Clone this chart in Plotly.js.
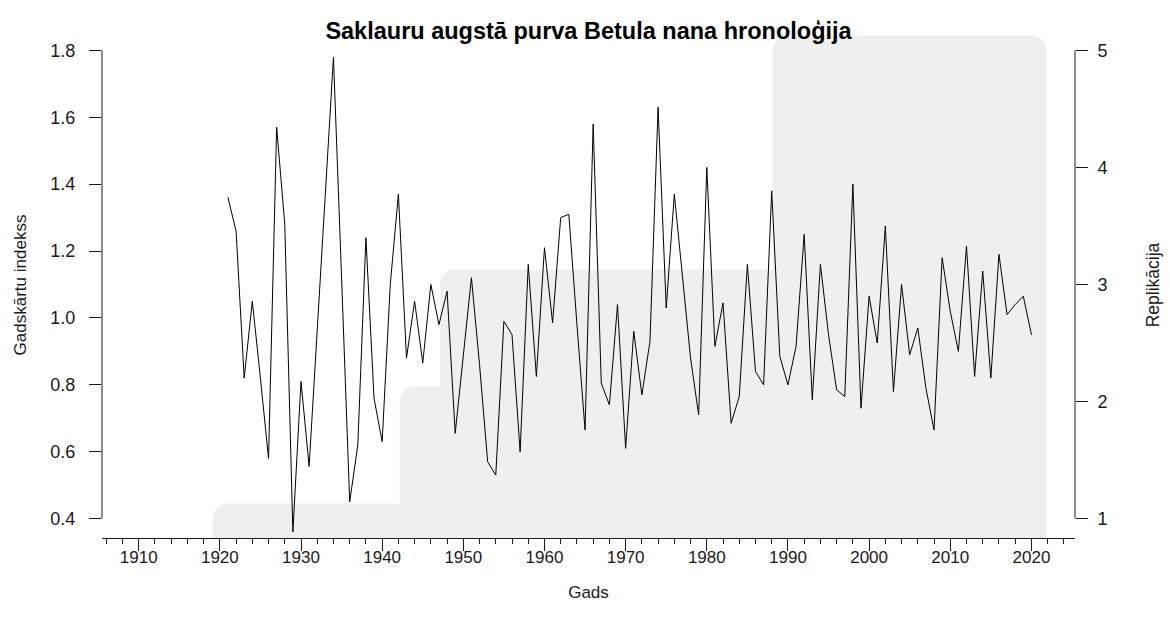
<!DOCTYPE html>
<html>
<head>
<meta charset="utf-8">
<script src="https://cdn.plot.ly/plotly-3.0.1.min.js"></script>
<style>
  body { margin: 0; background: #fff; }
  #chart { width: 1170px; height: 630px; }
</style>
</head>
<body>
<div id="chart"></div>
<script>
// gadskārtu indekss pa gadiem
var years = [1921,1922,1923,1924,1925,1926,1927,1928,1929,1930,
             1931,1932,1933,1934,1935,1936,1937,1938,1939,1940,
             1941,1942,1943,1944,1945,1946,1947,1948,1949,1950,
             1951,1952,1953,1954,1955,1956,1957,1958,1959,1960,
             1961,1962,1963,1964,1965,1966,1967,1968,1969,1970,
             1971,1972,1973,1974,1975,1976,1977,1978,1979,1980,
             1981,1982,1983,1984,1985,1986,1987,1988,1989,1990,
             1991,1992,1993,1994,1995,1996,1997,1998,1999,2000,
             2001,2002,2003,2004,2005,2006,2007,2008,2009,2010,
             2011,2012,2013,2014,2015,2016,2017,2018,2019,2020];
var indekss = [1.36,1.26,0.82,1.05,0.82,0.58,1.57,1.28,0.36,0.81,
               0.556,0.97,1.38,1.78,1.12,0.45,0.62,1.24,0.76,0.63,
               1.10,1.37,0.88,1.05,0.865,1.10,0.98,1.08,0.655,0.89,
               1.12,0.86,0.57,0.53,0.99,0.95,0.60,1.16,0.825,1.21,
               0.985,1.30,1.31,0.98,0.665,1.58,0.805,0.74,1.04,0.61,
               0.96,0.77,0.93,1.63,1.03,1.37,1.13,0.88,0.71,1.45,
               0.915,1.045,0.685,0.765,1.16,0.84,0.80,1.38,0.885,0.80,
               0.915,1.25,0.755,1.16,0.95,0.785,0.765,1.40,0.73,1.065,
               0.925,1.275,0.78,1.10,0.89,0.97,0.79,0.665,1.18,1.02,
               0.90,1.215,0.825,1.14,0.82,1.19,1.01,1.04,1.065,0.95];

// replikācija (paraugu skaits), pakāpeniski
var replGadi = [1921, 1944, 1949, 1990, 2020];
var replSkaits = [1, 2, 3, 5, 5];

var indeksTicks = [0.4, 0.6, 0.8, 1.0, 1.2, 1.4, 1.6, 1.8];
var replTicks = [1, 2, 3, 4, 5];
var gadiTicks = [1910, 1920, 1930, 1940, 1950, 1960, 1970, 1980, 1990, 2000, 2010, 2020];

var fonts = 'Liberation Sans, Arial, sans-serif';
var ink = '#1a1a1a';
var grey = '#efefef';

// laukums aizvērts līdz nullei
var n = replGadi.length;
var laukX = [replGadi[0]].concat(replGadi, [replGadi[n - 1]]);
var laukY = [0].concat(replSkaits, [0]);

var repl = {
  x: laukX, y: laukY, yaxis: 'y',
  type: 'scatter', mode: 'lines',
  line: { shape: 'hv', width: 30, color: grey },
  fill: 'toself', fillcolor: grey,
  hoverinfo: 'skip', showlegend: false
};

var hron = {
  x: years, y: indekss, yaxis: 'y2',
  type: 'scatter', mode: 'lines',
  line: { color: '#000', width: 1 },
  showlegend: false
};

var layout = {
  width: 1170, height: 630,
  margin: { l: 101.5, r: 95, t: 32, b: 92.3 },
  paper_bgcolor: '#fff', plot_bgcolor: 'rgba(0,0,0,0)',
  font: { family: fonts, color: ink, size: 17 },
  showlegend: false,
  title: {
    text: 'Saklauru augstā purva Betula nana hronoloģija',
    font: { family: fonts, size: 23.5, weight: 'bold', color: '#000' },
    x: 0.5, xref: 'paper', y: 1 - 31 / 630, yref: 'container', yanchor: 'middle'
  },
  xaxis: {
    range: [1905.48, 2025.37],
    tickmode: 'array', tickvals: gadiTicks,
    ticks: 'outside', ticklen: 12, tickcolor: ink, tickwidth: 1,
    minor: { tickmode: 'linear', tick0: 1906, dtick: 2, ticks: 'outside', ticklen: 5, tickcolor: ink },
    showline: true, linecolor: ink, linewidth: 1,
    showgrid: false, zeroline: false,
    tickfont: { size: 17 },
    ticklabelstandoff: -8,
    title: { text: 'Gads', font: { size: 17 }, standoff: 19 }
  },
  yaxis: {
    side: 'right',
    range: [0.834, 5.157],
    tickmode: 'array', tickvals: replTicks,
    ticks: 'outside', ticklen: 12, tickcolor: ink, tickwidth: 1,
    showline: false, showgrid: false, zeroline: false,
    tickfont: { size: 18 },
    ticklabelstandoff: 6,
    title: { text: 'Replikācija', font: { size: 17.5 }, standoff: 40 }
  },
  yaxis2: {
    overlaying: 'y', side: 'left',
    range: [0.342, 1.855],
    tickmode: 'array', tickvals: indeksTicks, tickformat: '.1f',
    ticks: 'outside', ticklen: 12, tickcolor: ink, tickwidth: 1,
    showline: false, showgrid: false, zeroline: false,
    tickfont: { size: 18 },
    ticklabelstandoff: 10,
    title: { text: 'Gadskārtu indekss', font: { size: 17 }, standoff: 19 }
  },
  shapes: [
    { type: 'line', xref: 'paper', yref: 'y2', x0: 0, x1: 0,
      y0: indeksTicks[0], y1: indeksTicks[indeksTicks.length - 1],
      line: { color: ink, width: 1 } },
    { type: 'line', xref: 'paper', yref: 'y', x0: 1, x1: 1,
      y0: replTicks[0], y1: replTicks[replTicks.length - 1],
      line: { color: ink, width: 1 } }
  ]
};

Plotly.newPlot('chart', [repl, hron], layout, { staticPlot: true }).then(function (gd) {
  // R zīmē ar noapaļotiem savienojumiem
  gd.querySelectorAll('.js-line').forEach(function (p) {
    p.style.strokeLinejoin = 'round';
    p.style.strokeLinecap = 'round';
  });
});
</script>
</body>
</html>
